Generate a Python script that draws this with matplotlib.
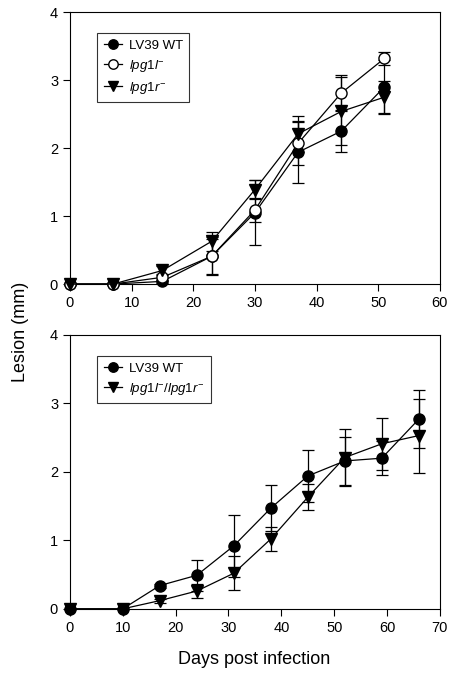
import matplotlib.pyplot as plt

plt.rcParams["font.family"] = ["Liberation Sans", "DejaVu Sans"]
plt.rcParams["mathtext.fontset"] = "custom"
plt.rcParams["mathtext.rm"] = "Liberation Sans"
plt.rcParams["mathtext.it"] = "Liberation Sans:italic"

# top panel
days_a = [0, 7, 15, 23, 30, 37, 44, 51]
wt_a = [0, 0, 0.04, 0.41, 1.05, 1.94, 2.25, 2.90]
wt_a_err = [0, 0, 0.02, 0.26, 0.48, 0.46, 0.31, 0.40]
l_a = [0, 0, 0.10, 0.41, 1.09, 2.07, 2.81, 3.32]
l_a_err = [0, 0, 0.05, 0.28, 0.18, 0.32, 0.26, 0.10]
r_a = [0, 0, 0.20, 0.63, 1.39, 2.21, 2.54, 2.75]
r_a_err = [0, 0, 0.06, 0.14, 0.14, 0.26, 0.50, 0.24]

# bottom panel
days_b = [0, 10, 17, 24, 31, 38, 45, 52, 59, 66]
wt_b = [0, 0, 0.34, 0.49, 0.92, 1.47, 1.94, 2.16, 2.20, 2.77]
wt_b_err = [0, 0, 0.03, 0.23, 0.45, 0.34, 0.38, 0.35, 0.25, 0.42]
lr_b = [0, 0, 0.12, 0.26, 0.52, 1.02, 1.63, 2.21, 2.41, 2.53]
lr_b_err = [0, 0, 0.03, 0.10, 0.25, 0.18, 0.19, 0.42, 0.38, 0.54]

lbl_wt = "LV39 WT"
lbl_l = r"$\mathit{lpg1l}^{-}$"
lbl_r = r"$\mathit{lpg1r}^{-}$"
lbl_lr = r"$\mathit{lpg1l}^{-}\mathit{/lpg1r}^{-}$"


def series(ax, x, y, err, marker, face):
    c = ax.errorbar(x, y, yerr=err, color="black", marker=marker, markersize=8,
                    markerfacecolor=face, markeredgecolor="black", linewidth=0.9,
                    elinewidth=0.9, capsize=4, capthick=0.9,
                    clip_on=False, zorder=3)
    return c[0]


def style(ax, xmax):
    ax.set_xlim(0, xmax)
    ax.set_ylim(0, 4)
    ax.set_xticks(range(0, xmax + 1, 10))
    ax.set_yticks(range(0, 5))
    ax.tick_params(direction="out", length=5, width=0.8, labelsize=10.5,
                   top=False, right=False)
    for s in ax.spines.values():
        s.set_linewidth(0.8)


def legend(ax, handles, labels):
    leg = ax.legend(handles, labels, loc="upper left",
                    bbox_to_anchor=(0.073, 0.923), fontsize=9.5, frameon=True,
                    fancybox=False, edgecolor="black", handlelength=1.4,
                    handletextpad=0.5, markerscale=0.85, borderpad=0.5,
                    labelspacing=0.45, borderaxespad=0)
    leg.get_frame().set_linewidth(0.8)


fig = plt.figure(figsize=(4.54, 6.78), dpi=100)
ax1 = fig.add_axes([0.154, 0.581, 0.815, 0.401])
ax2 = fig.add_axes([0.154, 0.102, 0.815, 0.404])

h1 = series(ax1, days_a, wt_a, wt_a_err, "o", "black")
h2 = series(ax1, days_a, l_a, l_a_err, "o", "white")
h3 = series(ax1, days_a, r_a, r_a_err, "v", "black")
style(ax1, 60)
legend(ax1, [h1, h2, h3], [lbl_wt, lbl_l, lbl_r])

g1 = series(ax2, days_b, wt_b, wt_b_err, "o", "black")
g2 = series(ax2, days_b, lr_b, lr_b_err, "v", "black")
style(ax2, 70)
legend(ax2, [g1, g2], [lbl_wt, lbl_lr])

fig.text(0.045, 0.51, "Lesion (mm)", rotation=90, ha="center", va="center",
         fontsize=13)
fig.text(0.56, 0.027, "Days post infection", ha="center", va="center",
         fontsize=13)

fig.savefig("out.png", dpi=100)
